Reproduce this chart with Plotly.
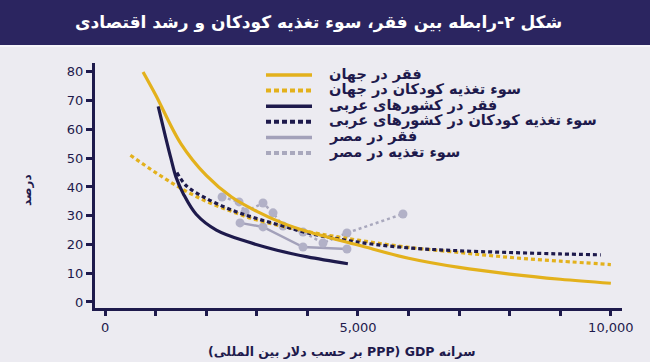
import plotly.graph_objects as go

# ---- data ----
world_pov_x = [750, 1000, 1500, 2000, 2500, 3000, 3500, 4000, 5000, 6000, 7000, 8000, 9000, 10000]
world_pov_y = [80, 72, 55, 44, 36.5, 31.5, 27.5, 24.5, 19.8, 15.2, 12, 9.7, 7.9, 6.5]

world_mal_x = [500, 1000, 1500, 2000, 2500, 3000, 4000, 5000, 6000, 7000, 8000, 9000, 10000]
world_mal_y = [51, 45, 39.5, 35, 31.5, 28.5, 24.5, 21.5, 19, 17.2, 15.5, 14.2, 13]

arab_pov_x = [1050, 1200, 1300, 1400, 1550, 1800, 2200, 2800, 3400, 4000, 4800]
arab_pov_y = [68, 57, 50, 43.5, 37.5, 30.5, 25, 21, 18, 15.7, 13.3]

arab_mal_x = [1420, 1600, 2000, 2500, 3000, 3500, 4000, 5000, 6000, 7000, 8000, 9000, 9800]
arab_mal_y = [45, 40.5, 36, 32, 29, 26.5, 24, 20.8, 18.8, 17.8, 17.2, 16.7, 16.4]

egypt_pov_x = [2668, 3122, 3913, 4782]
egypt_pov_y = [27.5, 26.1, 19.1, 18.4]

egypt_mal_x = [2312, 2648, 2767, 3122, 3320, 3518, 3913, 4308, 4782, 5889]
egypt_mal_y = [36.5, 34.8, 31.3, 34.4, 31, 26.4, 24.3, 20.5, 24, 30.6]

names = [
    "فقر در جهان",
    "سوء تغذیه کودکان در جهان",
    "فقر در کشورهای عربی",
    "سوء تغذیه کودکان در کشورهای عربی",
    "فقر در مصر",
    "سوء تغذیه در مصر",
]

x_tickvals = [0, 1000, 2000, 3000, 4000, 5000, 6000, 7000, 8000, 9000, 10000]
x_ticktext = ["0", "", "", "", "", "5,000", "", "", "", "", "10,000"]
y_tickvals = [0, 10, 20, 30, 40, 50, 60, 70, 80]

title_text = "شکل ۲-رابطه بین فقر، سوء تغذیه کودکان و رشد اقتصادی"
x_title = "\u202Bسرانه GDP \u200F(PPP بر حسب دلار بین المللی)\u202C"
y_title = "درصد"

GOLD = "#e3b11c"
NAVY = "#1e1a4c"
GREY = "#a3a1ba"
GREY_D = "#a9a8bd"
BG = "#ecebf1"
FONT = "DejaVu Sans"

styles = [
    dict(color=GOLD, width=3.2, dash="solid"),
    dict(color=GOLD, width=3.2, dash="4px,3px"),
    dict(color=NAVY, width=3.2, dash="solid"),
    dict(color=NAVY, width=3.2, dash="4px,3px"),
    dict(color=GREY, width=2.5, dash="solid"),
    dict(color=GREY_D, width=2.5, dash="3px,3px"),
]

fig = go.Figure()

# Egypt traces drawn first (beneath)
fig.add_trace(go.Scatter(x=egypt_pov_x, y=egypt_pov_y, mode="lines+markers", name=names[4],
                         line=styles[4], marker=dict(size=9, color="#b2b1c7")))
fig.add_trace(go.Scatter(x=egypt_mal_x, y=egypt_mal_y, mode="lines+markers", name=names[5],
                         line=styles[5], marker=dict(size=9, color="#b2b1c7")))
fig.add_trace(go.Scatter(x=world_mal_x, y=world_mal_y, mode="lines", name=names[1],
                         line=dict(**styles[1], shape="spline")))
fig.add_trace(go.Scatter(x=arab_mal_x, y=arab_mal_y, mode="lines", name=names[3],
                         line=dict(**styles[3], shape="spline")))
fig.add_trace(go.Scatter(x=arab_pov_x, y=arab_pov_y, mode="lines", name=names[2],
                         line=dict(**styles[2], shape="spline")))
fig.add_trace(go.Scatter(x=world_pov_x, y=world_pov_y, mode="lines", name=names[0],
                         line=dict(**styles[0], shape="spline")))

L, R, T, B = 95, 28, 63, 54
W, H = 650, 362
pw = W - L - R
ph = H - T - B

def px_x(p):
    return (p - L) / pw

def px_y(p):
    return (H - B - p) / ph

shapes = [
    dict(type="rect", xref="paper", yref="paper",
         x0=px_x(-5), x1=px_x(655), y0=px_y(45), y1=px_y(-5),
         fillcolor="#2b2560", line=dict(width=0), layer="below"),
    dict(type="rect", xref="paper", yref="paper",
         x0=px_x(-5), x1=px_x(655), y0=px_y(47), y1=px_y(45),
         fillcolor="#f6f5fa", line=dict(width=0), layer="below"),
]
annotations = [
    dict(text="<b>" + title_text + "</b>", xref="paper", yref="paper",
         x=px_x(318), y=px_y(22), xanchor="center", yanchor="middle",
         showarrow=False, font=dict(size=17, color="white", family=FONT)),
    dict(text="<b>" + x_title + "</b>", xref="paper", yref="paper",
         x=px_x(341), y=px_y(351), xanchor="center", yanchor="middle",
         showarrow=False, font=dict(size=12.5, color=NAVY, family=FONT)),
    dict(text="<b>" + y_title + "</b>", xref="paper", yref="paper",
         x=px_x(27), y=px_y(190), xanchor="center", yanchor="middle", textangle=-90,
         showarrow=False, font=dict(size=12, color=NAVY, family=FONT)),
]

# manual legend
for i, (nm, st) in enumerate(zip(names, styles)):
    yy = 75 + i * 15.6
    shapes.append(dict(type="line", xref="paper", yref="paper",
                       x0=px_x(266), x1=px_x(312), y0=px_y(yy), y1=px_y(yy),
                       line=dict(color=st["color"], width=4 if st["dash"] != "solid" else 3.5,
                                 dash="solid" if st["dash"] == "solid" else "5px,3px")))
    annotations.append(dict(text="<b>" + nm + "</b>", xref="paper", yref="paper",
                            x=px_x(327), y=px_y(yy - 1), xanchor="left", yanchor="middle",
                            showarrow=False, font=dict(size=14.5, color=NAVY, family=FONT)))

fig.update_layout(
    width=W, height=H,
    margin=dict(l=L, r=R, t=T, b=B, autoexpand=False),
    paper_bgcolor=BG, plot_bgcolor=BG,
    font=dict(family=FONT, color=NAVY, size=12),
    showlegend=False,
    xaxis=dict(range=[-200, 10220], showgrid=False, zeroline=False, automargin=False,
               showline=True, linecolor=NAVY, linewidth=3,
               ticks="outside", tickcolor=NAVY, tickwidth=3, ticklen=5,
               tickmode="array", tickvals=x_tickvals, ticktext=x_ticktext,
               tickfont=dict(size=13, color=NAVY, family=FONT)),
    yaxis=dict(range=[-2.1, 83.1], showgrid=False, zeroline=False, automargin=False,
               showline=True, linecolor=NAVY, linewidth=3,
               ticks="outside", tickcolor=NAVY, tickwidth=3, ticklen=6,
               tickvals=y_tickvals,
               tickfont=dict(size=13, color=NAVY, family=FONT)),
    shapes=shapes,
    annotations=annotations,
)

fig.write_html("out.html", config={"displayModeBar": False},
               post_script="document.body.style.margin='0';document.body.style.overflow='hidden';")
